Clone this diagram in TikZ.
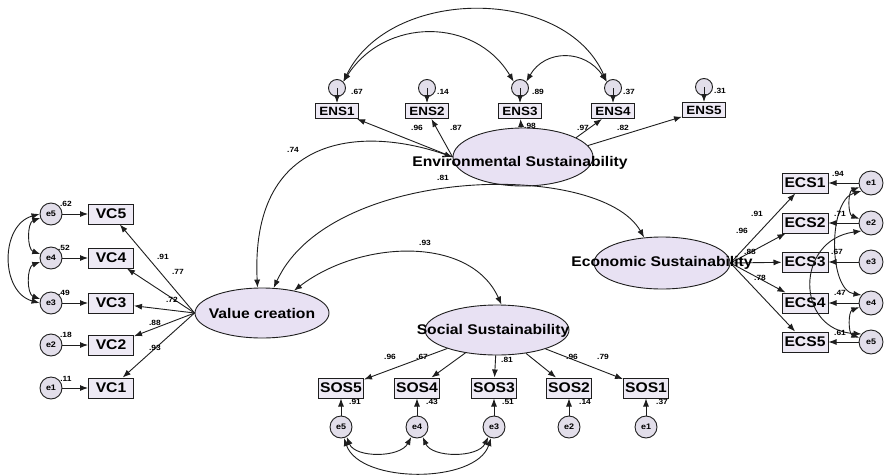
\documentclass[tikz,border=0pt]{standalone}
\usepackage{fontspec}
\setmainfont{Liberation Sans}[FakeStretch=1.12]
\usetikzlibrary{arrows.meta,shapes.geometric}
\definecolor{latfill}{RGB}{232,225,243}
\definecolor{obsfill}{RGB}{238,234,245}
\definecolor{errfill}{RGB}{226,222,234}
\definecolor{ink}{RGB}{30,30,30}
\begin{document}
\begin{tikzpicture}[x=1pt,y=-1pt,
  lat/.style={ellipse,draw=ink,line width=0.9pt,fill=latfill,inner sep=0pt},
  lattxt/.style={inner sep=0pt,font=\fontsize{14}{14}\selectfont\bfseries},
  obs/.style={rectangle,draw=ink,line width=1pt,fill=obsfill,inner sep=0pt,minimum width=45pt,minimum height=20pt,font=\fontsize{14}{14}\selectfont\bfseries},
  ensbox/.style={obs,minimum width=43pt,minimum height=15pt,font=\fontsize{12}{12}\selectfont\bfseries},
  err/.style={circle,draw=ink,line width=0.9pt,fill=errfill,inner sep=0pt,minimum size=22pt,font=\fontsize{8}{8}\selectfont\bfseries},
  enserr/.style={err,minimum size=17pt},
  ecserr/.style={err,minimum size=24pt},
  path/.style={draw=ink,line width=0.9pt,-{Latex[length=8pt,width=6pt]}},
  cov/.style={draw=ink,line width=0.9pt,{Latex[length=8pt,width=6pt]}-{Latex[length=8pt,width=6pt]}},
  lbl/.style={inner sep=0pt,font=\fontsize{7.5}{7.5}\selectfont\bfseries}]
\useasboundingbox[fill=white] (0,0) rectangle (885,474);

% ---------- Environmental sustainability ----------
\node[lat,minimum width=140pt,minimum height=58pt] (env) at (523,157) {};
\node[ensbox] (ens1) at (337,111) {ENS1};
\node[ensbox] (ens2) at (427,111) {ENS2};
\node[ensbox] (ens3) at (520,111) {ENS3};
\node[ensbox] (ens4) at (613,111) {ENS4};
\node[ensbox] (ens5) at (704,110) {ENS5};
\node[enserr] (n1) at (337,88) {};
\node[enserr] (n2) at (427,88) {};
\node[enserr] (n3) at (520,88) {};
\node[enserr] (n4) at (613,88) {};
\node[enserr] (n5) at (704,87) {};

% ---------- Value creation ----------
\node[lat,minimum width=134pt,minimum height=50pt] (vc) at (262,313) {};
\node[obs] (vc5) at (111,214) {VC5};
\node[obs] (vc4) at (111,258) {VC4};
\node[obs] (vc3) at (111,303) {VC3};
\node[obs] (vc2) at (111,345) {VC2};
\node[obs] (vc1) at (111,388) {VC1};
\node[err] (ve5) at (51,214) {e5};
\node[err] (ve4) at (51,258) {e4};
\node[err] (ve3) at (51,303) {e3};
\node[err] (ve2) at (51,345) {e2};
\node[err] (ve1) at (51,388) {e1};

% ---------- Social sustainability ----------
\node[lat,minimum width=144pt,minimum height=50pt] (soc) at (497,330) {};
\node[obs] (sos5) at (341,388) {SOS5};
\node[obs] (sos4) at (417,388) {SOS4};
\node[obs] (sos3) at (494,388) {SOS3};
\node[obs] (sos2) at (569,388) {SOS2};
\node[obs] (sos1) at (646,388) {SOS1};
\node[err] (se5) at (341,427) {e5};
\node[err] (se4) at (417,427) {e4};
\node[err] (se3) at (494,427) {e3};
\node[err] (se2) at (569,427) {e2};
\node[err] (se1) at (646,427) {e1};

% ---------- Economic sustainability ----------
\node[lat,minimum width=136pt,minimum height=52pt] (econ) at (662,263) {};
\node[obs,minimum width=46pt] (ecs1) at (805,183) {ECS1};
\node[obs,minimum width=46pt] (ecs2) at (805,223) {ECS2};
\node[obs,minimum width=46pt] (ecs3) at (805,262) {ECS3};
\node[obs,minimum width=46pt] (ecs4) at (805,303) {ECS4};
\node[obs,minimum width=46pt] (ecs5) at (805,342) {ECS5};
\node[ecserr] (c1) at (871,183) {e1};
\node[ecserr] (c2) at (871,223) {e2};
\node[ecserr] (c3) at (871,262) {e3};
\node[ecserr] (c4) at (871,303) {e4};
\node[ecserr] (c5) at (871,342) {e5};

% ---------- measurement paths ----------
\draw[path] (env.west) -- (ens1);
\draw[path] (env.west) -- (ens2);
\draw[path] (env) -- (ens3);
\draw[path] (env.20) -- (ens4);
\draw[path] (env.10) -- (ens5);
\foreach \i in {1,...,5}{\draw[path] (n\i.center) -- (ens\i);}

\foreach \i in {1,...,5}{\draw[path] (vc.west) -- (vc\i);}
\foreach \i in {1,...,5}{\draw[path] (ve\i) -- (vc\i);}

\foreach \i in {1,...,5}{\draw[path] (soc) -- (sos\i);}
\foreach \i in {1,...,5}{\draw[path] (se\i) -- (sos\i);}

\foreach \i in {1,...,5}{\draw[path] (econ.east) -- (ecs\i);}
\foreach \i in {1,...,5}{\draw[path] (c\i) -- (ecs\i);}

% ---------- error covariances ----------
\draw[cov] (n1.north east) .. controls (390,-14) and (565,-14) .. (n4.north west);
\draw[cov] (n1.north east) .. controls (385,17) and (475,17) .. (n3.north west);
\draw[cov] (n3.north east) .. controls (545,49) and (585,49) .. (n4.north west);

\draw[cov] (ve5.200) to[out=200,in=160] (ve4.160);
\draw[cov] (ve4.200) to[out=200,in=160] (ve3.160);
\draw[cov] (ve5.west) .. controls (0,225) and (0,292) .. (ve3.west);

\draw[cov] (se5.-60) .. controls (355,458) and (400,458) .. (se4.-120);
\draw[cov] (se4.-60) .. controls (432,458) and (478,458) .. (se3.-120);
\draw[cov] (se5.-75) .. controls (360,484) and (476,484) .. (se3.-105);

\draw[cov] (c1.200) to[out=200,in=160] (c2.160);
\draw[cov] (c4.200) to[out=200,in=160] (c5.160);
\draw[cov] (c1.220) .. controls (828,200) and (828,290) .. (c4.140);
\draw[cov] (c2.220) .. controls (795,240) and (795,330) .. (c5.140);

% ---------- structural covariances ----------
\draw[cov] (env.west) .. controls (360,125) and (250,135) .. (vc.100);
\draw[cov] (vc.65) .. controls (330,165) and (600,160) .. (econ.125);
\draw[cov] (vc.35) .. controls (360,240) and (470,235) .. (soc.80);

% ---------- latent texts ----------
\node[lattxt] (envt) at (520,163) {Environmental Sustainability};
\node[lattxt] (vct) at (262,313) {Value creation};
\node[lattxt] (soct) at (493,331) {Social Sustainability};
\node[lattxt] (econt) at (662,263) {Economic Sustainability};

% ---------- coefficient labels ----------
\node[lbl] (l74) at (293,150) {.74};
\node[lbl] (l81) at (443,178) {.81};
\node[lbl] (l93) at (425,243) {.93};

\node[lbl] (a1) at (417,128) {.96};
\node[lbl] (a2) at (456,128) {.87};
\node[lbl] (a3) at (530,126) {.98};
\node[lbl] (a4) at (583,128) {.97};
\node[lbl] (a5) at (623,128) {.82};
\node[lbl] (r1) at (357,92) {.67};
\node[lbl] (r2) at (443,92) {.14};
\node[lbl] (r3) at (538,92) {.89};
\node[lbl] (r4) at (629,92) {.37};
\node[lbl] (r5) at (720,91) {.31};

\node[lbl] (b5) at (163,257) {.91};
\node[lbl] (b4) at (178,272) {.77};
\node[lbl] (b3) at (172,300) {.72};
\node[lbl] (b2) at (155,323) {.88};
\node[lbl] (b1) at (155,348) {.93};
\node[lbl] (s5) at (66,204) {.62};
\node[lbl] (s4) at (64,248) {.52};
\node[lbl] (s3) at (64,293) {.49};
\node[lbl] (s2) at (66,335) {.18};
\node[lbl] (s1) at (66,379) {.11};

\node[lbl] (d5) at (390,357) {.96};
\node[lbl] (d4) at (422,357) {.67};
\node[lbl] (d3) at (507,360) {.81};
\node[lbl] (d2) at (572,357) {.96};
\node[lbl] (d1) at (603,357) {.79};
\node[lbl] (t5) at (355,402) {.91};
\node[lbl] (t4) at (432,402) {.43};
\node[lbl] (t3) at (508,402) {.51};
\node[lbl] (t2) at (585,402) {.14};
\node[lbl] (t1) at (662,402) {.37};

\node[lbl] (f1) at (757,214) {.91};
\node[lbl] (f2) at (742,231) {.96};
\node[lbl] (f3) at (750,252) {.88};
\node[lbl] (f4) at (760,278) {.78};
\node[lbl] (g1) at (838,174) {.94};
\node[lbl] (g2) at (840,214) {.71};
\node[lbl] (g3) at (837,252) {.67};
\node[lbl] (g4) at (840,293) {.47};
\node[lbl] (g5) at (840,333) {.61};
\end{tikzpicture}
\end{document}
